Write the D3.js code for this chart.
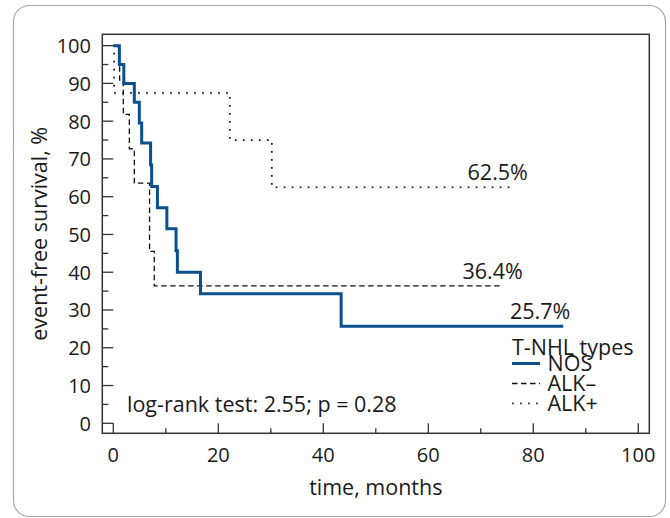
<!DOCTYPE html>
<html>
<head>
<meta charset="utf-8">
<script src="https://cdn.jsdelivr.net/npm/d3@7"></script>
<style>
  html, body { margin: 0; padding: 0; background: #fff; }
  svg text { font-family: "Open Sans", "Noto Sans", sans-serif; fill: #1a1a1a; }
</style>
</head>
<body>
<div id="chart"></div>
<script>
// Kaplan-Meier steps (months, % event-free)
var nosTime = [0, 1.15, 2.0, 4.0, 4.95, 5.4, 7.1, 7.3, 8.4, 10.2, 11.95, 12.2, 16.6, 43.4, 85.7];
var nosSurv = [100, 95, 90, 85, 79.5, 74.2, 68.4, 62.7, 57.1, 51.5, 45.7, 40.0, 34.3, 25.7, 25.7];

var alkNegTime = [0, 1.2, 1.9, 3.05, 4.0, 6.9, 7.8, 74.0];
var alkNegSurv = [100, 90.9, 81.8, 72.7, 63.6, 45.5, 36.4, 36.4];

var alkPosTime = [0, 0.15, 22.2, 30.2, 76.3];
var alkPosSurv = [100, 87.5, 75, 62.5, 62.5];

var seriesNames = ["NOS", "ALK\u2013", "ALK+"];
var endLabels = ["25.7%", "36.4%", "62.5%"];
var xTicks = [0, 20, 40, 60, 80, 100];
var yTicks = [0, 10, 20, 30, 40, 50, 60, 70, 80, 90, 100];

var width = 670, height = 518;

var svg = d3.select("#chart").append("svg")
    .attr("width", width)
    .attr("height", height);

// card background
svg.append("rect")
    .attr("x", 13.5).attr("y", 5.5)
    .attr("width", 652).attr("height", 511)
    .attr("rx", 16).attr("ry", 16)
    .attr("fill", "#fff")
    .attr("stroke", "#a8a8a8")
    .attr("stroke-width", 1.2);

// frame is a bit wider than the 0..100 data range
var x = d3.scaleLinear().domain([-2.1, 102.1]).range([102.3, 649.3]);
var y = d3.scaleLinear().domain([-2.65, 103]).range([433.3, 34.3]);

var frame = svg.append("g");

// ticks inside the frame
frame.selectAll("line.ymajor")
    .data(yTicks)
    .enter().append("line")
    .attr("x1", x(-2.1)).attr("x2", x(-2.1) + 11)
    .attr("y1", function (d) { return y(d); })
    .attr("y2", function (d) { return y(d); })
    .attr("stroke", "#333").attr("stroke-width", 1.3);

frame.selectAll("line.yminor")
    .data(d3.range(5, 100, 10))
    .enter().append("line")
    .attr("x1", x(-2.1)).attr("x2", x(-2.1) + 6)
    .attr("y1", function (d) { return y(d); })
    .attr("y2", function (d) { return y(d); })
    .attr("stroke", "#333").attr("stroke-width", 1.3);

frame.selectAll("line.xmajor")
    .data(xTicks)
    .enter().append("line")
    .attr("x1", function (d) { return x(d); })
    .attr("x2", function (d) { return x(d); })
    .attr("y1", y(-2.65)).attr("y2", y(-2.65) - 10)
    .attr("stroke", "#333").attr("stroke-width", 1.3);

frame.selectAll("line.xminor")
    .data(d3.range(10, 100, 20))
    .enter().append("line")
    .attr("x1", function (d) { return x(d); })
    .attr("x2", function (d) { return x(d); })
    .attr("y1", y(-2.65)).attr("y2", y(-2.65) - 5)
    .attr("stroke", "#333").attr("stroke-width", 1.3);

frame.append("rect")
    .attr("x", x(-2.1)).attr("y", y(103))
    .attr("width", x(102.1) - x(-2.1))
    .attr("height", y(-2.65) - y(103))
    .attr("fill", "none")
    .attr("stroke", "#333")
    .attr("stroke-width", 1.5);

// tick labels
svg.selectAll("text.ytick")
    .data(yTicks)
    .enter().append("text")
    .attr("x", 91)
    .attr("y", function (d) { return y(d) + 7.5; })
    .attr("text-anchor", "end")
    .style("font-size", "20px")
    .text(function (d) { return d; });

svg.selectAll("text.xtick")
    .data(xTicks)
    .enter().append("text")
    .attr("x", function (d) { return x(d); })
    .attr("y", 461.5)
    .attr("text-anchor", "middle")
    .style("font-size", "20px")
    .text(function (d) { return d; });

svg.append("text")
    .attr("x", (x(-2.1) + x(102.1)) / 2)
    .attr("y", 495)
    .attr("text-anchor", "middle")
    .style("font-size", "21.5px")
    .text("time, months");

svg.append("text")
    .attr("transform", "translate(47," + ((y(-2.65) + y(103)) / 2) + ") rotate(-90)")
    .attr("text-anchor", "middle")
    .style("font-size", "21.5px")
    .text("event-free survival, %");

// survival curves
var line = d3.line()
    .x(function (d) { return x(d[0]); })
    .y(function (d) { return y(d[1]); })
    .curve(d3.curveStepAfter);

var series = [
    { name: seriesNames[0], t: nosTime, s: nosSurv, color: "#0b4f8f", w: 3, dash: null, label: endLabels[0], lx: 7 },
    { name: seriesNames[1], t: alkNegTime, s: alkNegSurv, color: "#111", w: 1.3, dash: "5.5,3.5", label: endLabels[1], lx: 21 },
    { name: seriesNames[2], t: alkPosTime, s: alkPosSurv, color: "#111", w: 1.7, dash: "1.7,6.3", label: endLabels[2], lx: 14 }
];

// draw dotted/dashed first so the blue line sits on top
series.slice().reverse().forEach(function (d) {
    svg.append("path")
        .datum(d3.zip(d.t, d.s))
        .attr("d", line)
        .attr("fill", "none")
        .attr("stroke", d.color)
        .attr("stroke-width", d.w)
        .attr("stroke-dasharray", d.dash);
});

series.forEach(function (d) {
    var n = d.t.length - 1;
    svg.append("text")
        .attr("x", x(d.t[n]) + d.lx)
        .attr("y", y(d.s[n]) - 7)
        .attr("text-anchor", "end")
        .style("font-size", "21.5px")
        .text(d.label);
});

// legend
var legend = svg.append("g").attr("transform", "translate(512,355)");

legend.append("text")
    .attr("x", 0).attr("y", 0)
    .style("font-size", "21.5px")
    .text("T-NHL types");

series.forEach(function (d, i) {
    var ly = 8.5 + i * 20;
    legend.append("line")
        .attr("x1", 0).attr("x2", 28)
        .attr("y1", ly).attr("y2", ly)
        .attr("stroke", d.color)
        .attr("stroke-width", d.w)
        .attr("stroke-dasharray", d.dash);
    legend.append("text")
        .attr("x", 35.5)
        .attr("y", ly + 7.5)
        .style("font-size", "21.5px")
        .text(d.name);
});

svg.append("text")
    .attr("x", 127)
    .attr("y", 412)
    .style("font-size", "21.5px")
    .text("log-rank test: 2.55; p = 0.28");
</script>
</body>
</html>
